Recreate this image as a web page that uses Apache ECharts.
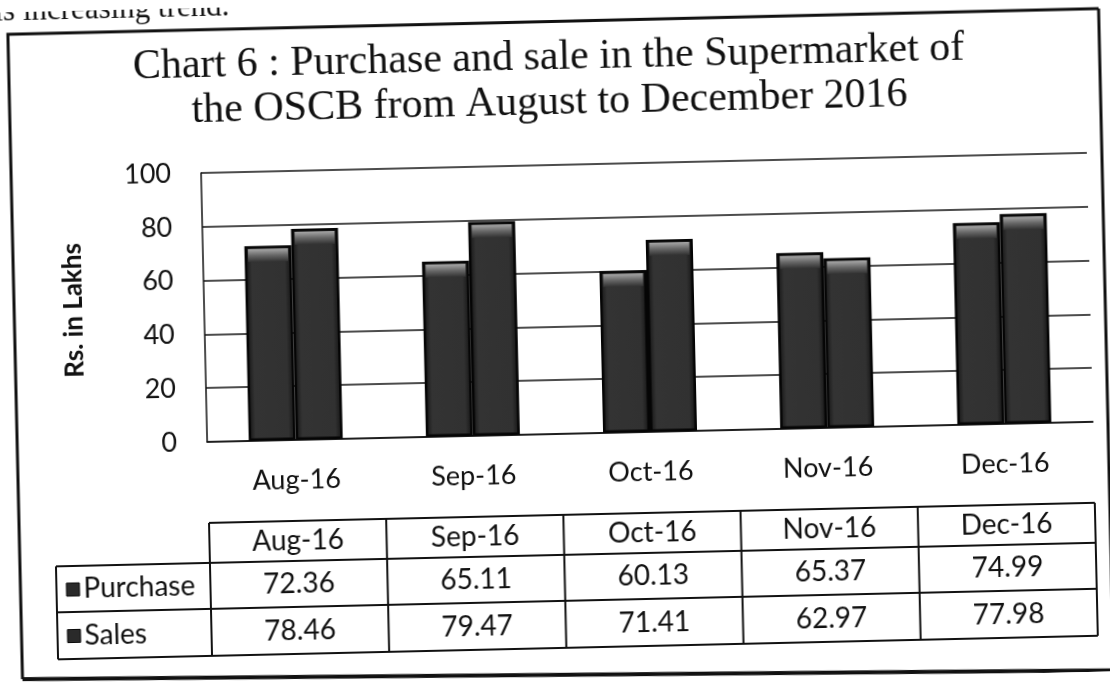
<!DOCTYPE html>
<html>
<head>
<meta charset="utf-8">
<title>Chart 6</title>
<script src="https://cdn.jsdelivr.net/npm/echarts@6/dist/echarts.min.js"></script>
<style>
  html, body { margin: 0; padding: 0; background: #fff; overflow: hidden; }
  /* the source is a slightly tilted scan, so the whole chart is turned a little */
  #chart { width: 1110px; height: 684px; transform: rotate(-1.3deg); transform-origin: 555px 342px; }
</style>
</head>
<body>
<div id="chart"></div>
<script>
const months = ['Aug-16', 'Sep-16', 'Oct-16', 'Nov-16', 'Dec-16']
const purchase = [72.36, 65.11, 60.13, 65.37, 74.99]
const sales = [78.46, 79.47, 71.41, 62.97, 77.98]
const seriesNames = ['Purchase', 'Sales']

const ink = '#111'
const labelFont = 'Lato, "Open Sans", sans-serif'

const barFill = {
  type: 'linear', x: 0, y: 0, x2: 1, y2: 0,
  colorStops: [
    { offset: 0, color: '#121212' },
    { offset: 0.15, color: '#333' },
    { offset: 0.85, color: '#313131' },
    { offset: 1, color: '#121212' }
  ]
}
const bevelFill = {
  type: 'linear', x: 0, y: 0, x2: 0, y2: 1,
  colorStops: [
    { offset: 0, color: '#a8a8a8' },
    { offset: 0.5, color: '#666' },
    { offset: 1, color: '#313131' }
  ]
}

const chart = echarts.init(document.getElementById('chart'))

const barSeries = (name, data) => ({
  name: name,
  type: 'bar',
  data: data,
  barWidth: 47,
  barGap: '0%',
  itemStyle: { color: barFill, borderColor: '#050505', borderWidth: 2.5 },
  emphasis: { disabled: true },
  z: 2
})
const bevelSeries = (name, data) => ({
  name: name + ' top',
  type: 'pictorialBar',
  data: data,
  barWidth: 47,
  barGap: '0%',
  symbol: 'rect',
  symbolSize: [40, 13],
  symbolPosition: 'end',
  symbolOffset: [0, 3],
  itemStyle: { color: bevelFill },
  silent: true,
  z: 3
})

chart.setOption({
  backgroundColor: '#fff',
  animation: false,
  title: {
    text: 'Chart 6 : Purchase and sale in the Supermarket of\nthe OSCB from August to December 2016',
    left: 'center',
    top: 35,
    padding: [0, 0, 0, 22],
    textStyle: {
      fontFamily: '"Liberation Serif", serif',
      fontSize: 42,
      fontWeight: 'normal',
      lineHeight: 45,
      color: ink
    }
  },
  grid: { left: 205, right: 19, top: 165, bottom: 250 },
  xAxis: {
    type: 'category',
    data: months,
    axisLine: { lineStyle: { color: ink, width: 1.5 } },
    axisTick: { show: false },
    axisLabel: { margin: 27, fontSize: 27, fontFamily: labelFont, color: ink }
  },
  yAxis: {
    type: 'value',
    min: 0,
    max: 100,
    interval: 20,
    name: 'Rs. in Lakhs',
    nameLocation: 'middle',
    nameGap: 117,
    nameTextStyle: { fontSize: 26, fontWeight: 'bold', fontFamily: labelFont, color: ink },
    axisLine: { show: true, lineStyle: { color: ink, width: 1.5 } },
    axisTick: { show: false },
    splitLine: { lineStyle: { color: ink, width: 1.5 } },
    axisLabel: { margin: 30, fontSize: 27, fontFamily: labelFont, color: ink }
  },
  series: [
    barSeries(seriesNames[0], purchase),
    barSeries(seriesNames[1], sales),
    bevelSeries(seriesNames[0], purchase),
    bevelSeries(seriesNames[1], sales)
  ]
})

// data table under the plot, columns follow the category axis
const centers = months.map(m => chart.convertToPixel({ xAxisIndex: 0 }, m))
const band = centers[1] - centers[0]
const tLeft = centers[0] - band / 2
const tRight = centers[centers.length - 1] + band / 2
const rowY = [515, 555, 601, 648]
const keyLeft = 51
const lineStyle = { stroke: ink, lineWidth: 2 }
const cellText = (x, y, text, align) => ({
  type: 'text',
  x: x, y: y,
  style: { text: text, fill: ink, font: '28px ' + labelFont, textAlign: align || 'center', textVerticalAlign: 'middle' }
})

const table = []
rowY.forEach((y, i) => {
  table.push({ type: 'line', shape: { x1: i === 0 ? tLeft : keyLeft, y1: y, x2: tRight, y2: y }, style: lineStyle })
})
for (let k = 0; k <= months.length; k++) {
  const x = tLeft + k * band
  table.push({ type: 'line', shape: { x1: x, y1: rowY[0], x2: x, y2: rowY[3] }, style: lineStyle })
}
table.push({ type: 'line', shape: { x1: keyLeft, y1: rowY[1], x2: keyLeft, y2: rowY[3] }, style: lineStyle })

months.forEach((m, i) => {
  table.push(cellText(centers[i], (rowY[0] + rowY[1]) / 2, m))
  table.push(cellText(centers[i], (rowY[1] + rowY[2]) / 2, purchase[i].toFixed(2)))
  table.push(cellText(centers[i], (rowY[2] + rowY[3]) / 2, sales[i].toFixed(2)))
})
seriesNames.forEach((name, r) => {
  const cy = (rowY[r + 1] + rowY[r + 2]) / 2
  table.push({
    type: 'rect',
    shape: { x: keyLeft + 10, y: cy - 6, width: 13, height: 13 },
    style: { fill: '#2a2a2a', stroke: '#0a0a0a', lineWidth: 1 }
  })
  table.push(cellText(keyLeft + 27, cy, name, 'left'))
})

chart.setOption({
  graphic: [
    // scrap of the page text above the figure
    {
      type: 'text', x: 2, y: 15,
      style: { text: 'is increasing trend.', fill: ink, font: '31px "Liberation Serif", serif', textVerticalAlign: 'bottom' }
    },
    // figure frame
    { type: 'polyline', shape: { points: [[1106, 21], [15, 22], [15, 667]] }, style: { stroke: ink, lineWidth: 3, fill: null } },
    { type: 'line', shape: { x1: 1106, y1: 21, x2: 1106, y2: 684 }, style: { stroke: ink, lineWidth: 3 } },
    { type: 'line', shape: { x1: 15, y1: 667, x2: 1110, y2: 683 }, style: { stroke: ink, lineWidth: 4 } },
    ...table
  ]
})
</script>
</body>
</html>
